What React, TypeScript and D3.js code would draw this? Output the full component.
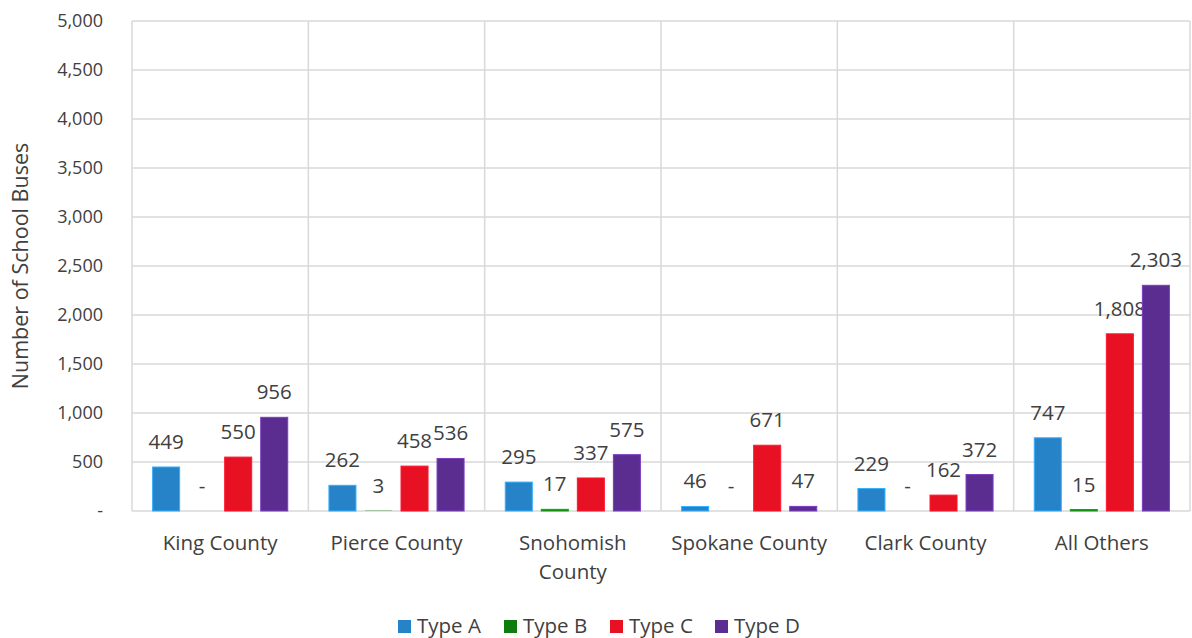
import { useEffect, useRef } from 'react';
import * as d3 from 'd3';

const categories = ['King County', 'Pierce County', 'Snohomish County', 'Spokane County', 'Clark County', 'All Others'];
const seriesNames = ['Type A', 'Type B', 'Type C', 'Type D'];
const typeA = [449, 262, 295, 46, 229, 747];
const typeB = [0, 3, 17, 0, 0, 15];
const typeC = [550, 458, 337, 671, 162, 1808];
const typeD = [956, 536, 575, 47, 372, 2303];
const colors = ['#2783C8', '#107C10', '#E81123', '#5C2D91'];
const yTicks = [0, 500, 1000, 1500, 2000, 2500, 3000, 3500, 4000, 4500, 5000];

const W = 1192;
const H = 638;
const FONT = '"Open Sans", sans-serif';

const App = () => {
  const svgRef = useRef<SVGSVGElement | null>(null);

  useEffect(() => {
    const svg = d3.select(svgRef.current);
    svg.selectAll('*').remove();

    const margin = { top: 21, right: 2, bottom: 127, left: 132 };
    const plotW = W - margin.left - margin.right;
    const plotH = H - margin.top - margin.bottom;
    const series = [typeA, typeB, typeC, typeD];

    const g = svg.append('g').attr('transform', `translate(${margin.left},${margin.top})`);

    const x0 = d3.scaleBand().domain(categories).range([0, plotW]).padding(0);
    const x1 = d3
      .scaleBand()
      .domain(seriesNames)
      .range([20.6, x0.bandwidth() - 20.6])
      .paddingInner(0.25)
      .paddingOuter(0);
    const y = d3.scaleLinear().domain([0, 5000]).range([plotH, 0]);

    // Horizontal gridlines
    g.selectAll('.hgrid')
      .data(yTicks)
      .enter()
      .append('line')
      .attr('x1', 0)
      .attr('x2', plotW)
      .attr('y1', d => y(d))
      .attr('y2', d => y(d))
      .attr('stroke', '#d9d9d9')
      .attr('stroke-width', 1.5);

    // Vertical category separators
    const seps = categories.map(c => x0(c) as number).concat([plotW]);
    g.selectAll('.vgrid')
      .data(seps)
      .enter()
      .append('line')
      .attr('x1', d => d)
      .attr('x2', d => d)
      .attr('y1', 0)
      .attr('y2', plotH)
      .attr('stroke', '#d9d9d9')
      .attr('stroke-width', 1.5);

    // Y tick labels
    svg.append('g')
      .selectAll('text')
      .data(yTicks)
      .enter()
      .append('text')
      .attr('x', 103)
      .attr('y', d => margin.top + y(d))
      .attr('dy', '0.35em')
      .attr('text-anchor', 'end')
      .style('font-family', FONT)
      .style('font-size', '18px')
      .style('fill', '#404040')
      .text(d => (d === 0 ? '-' : d3.format(',')(d)));

    // Y axis title
    svg.append('text')
      .attr('transform', `translate(28,${margin.top + plotH / 2}) rotate(-90)`)
      .attr('text-anchor', 'middle')
      .style('font-family', FONT)
      .style('font-size', '21.5px')
      .style('fill', '#404040')
      .text('Number of School Buses');

    // Bars and labels
    series.forEach((vals, si) => {
      const name = seriesNames[si];
      g.selectAll(`.bar-${si}`)
        .data(vals)
        .enter()
        .append('rect')
        .attr('x', (d, i) => (x0(categories[i]) as number) + (x1(name) as number))
        .attr('y', d => y(d))
        .attr('width', x1.bandwidth())
        .attr('height', d => plotH - y(d))
        .attr('fill', colors[si])
        .attr('stroke', d3.color(colors[si])!.brighter(0.8).toString())
        .attr('stroke-width', d => (plotH - y(d) > 1 ? 1 : 0));

      g.selectAll(`.lbl-${si}`)
        .data(vals)
        .enter()
        .append('text')
        .attr('x', (d, i) => (x0(categories[i]) as number) + (x1(name) as number) + x1.bandwidth() / 2)
        .attr('y', d => y(d) - 18)
        .attr('text-anchor', 'middle')
        .style('font-family', FONT)
        .style('font-size', '20.5px')
        .style('fill', '#404040')
        .text(d => (d === 0 ? '-' : d3.format(',')(d)));
    });

    // Category labels (wrap Snohomish County)
    categories.forEach(c => {
      const cx = margin.left + (x0(c) as number) + x0.bandwidth() / 2;
      const lines = c === 'Snohomish County' ? ['Snohomish', 'County'] : [c];
      const t = svg.append('text')
        .attr('text-anchor', 'middle')
        .style('font-family', FONT)
        .style('font-size', '20.5px')
        .style('fill', '#404040');
      lines.forEach((ln, li) => {
        t.append('tspan').attr('x', cx).attr('y', 550 + li * 29).text(ln);
      });
    });

    // Legend
    const legendX = [398, 504, 610, 715];
    seriesNames.forEach((name, i) => {
      const lg = svg.append('g').attr('transform', `translate(${legendX[i]},620)`);
      lg.append('rect').attr('width', 13).attr('height', 13).attr('fill', colors[i]);
      lg.append('text')
        .attr('x', 19)
        .attr('y', 13)
        .style('font-family', FONT)
        .style('font-size', '20.5px')
        .style('fill', '#404040')
        .text(name);
    });
  }, []);

  return (
    <div style={{ position: 'absolute', left: 0, top: 0 }}>
      <svg ref={svgRef} width={W} height={H} style={{ display: 'block', background: '#fff' }} />
    </div>
  );
};

export default App;
